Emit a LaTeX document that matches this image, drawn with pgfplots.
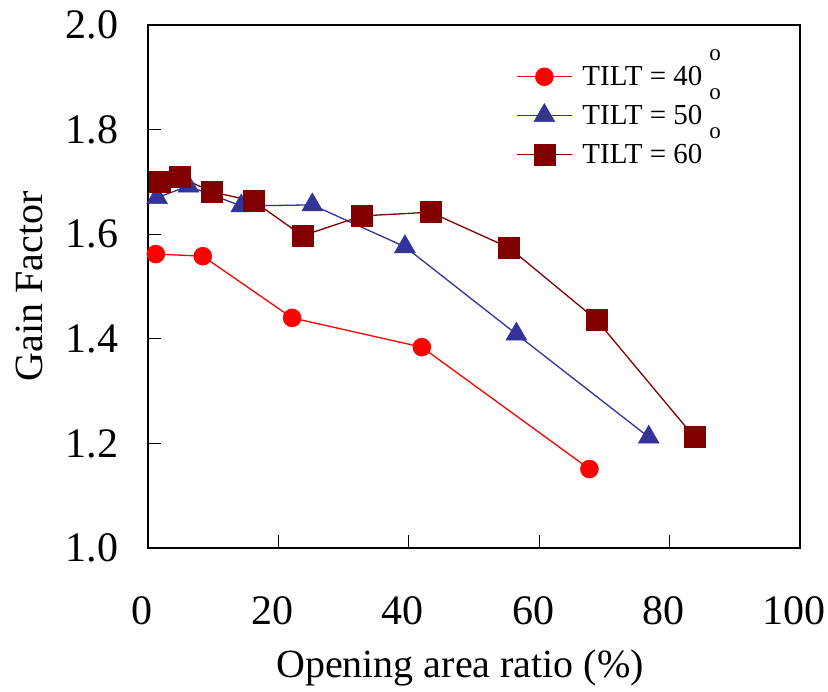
\documentclass[border=0pt]{standalone}
\usepackage{fontspec}
\setmainfont{Liberation Serif}
\usepackage{pgfplots}
\pgfplotsset{compat=1.18}
\definecolor{c40}{HTML}{FF0000}
\definecolor{c50}{HTML}{333399}
\definecolor{c60}{HTML}{800000}
\newcommand\degsup{\hspace{7bp}\smash{\raisebox{25bp}{\fontsize{23bp}{23bp}\selectfont o}}}
\begin{document}
\begin{tikzpicture}
\path[use as bounding box] (-148bp,-144bp) rectangle (680bp,548bp);
\begin{axis}[
  at={(0,0)}, anchor=south west,
  scale only axis, width=652bp, height=523bp,
  xmin=0, xmax=100, ymin=1, ymax=2,
  xtick={0,20,40,60,80,100},
  ytick={1.0,1.2,1.4,1.6,1.8,2.0},
  xtick pos=bottom, ytick pos=left, tick align=inside,
  major tick length=13bp,
  axis line style={line width=2bp},
  every tick/.style={black, line width=1bp},
  /pgf/number format/assume math mode=true,
  ticklabel style={font=\fontsize{42bp}{42bp}\selectfont},
  xticklabel style={yshift=-45bp, xshift=-6bp},
  yticklabel style={/pgf/number format/fixed, /pgf/number format/fixed zerofill, /pgf/number format/precision=1, xshift=-26bp},
  xlabel={Opening area ratio (\%)},
  ylabel={Gain Factor},
  label style={font=\fontsize{40bp}{40bp}\selectfont},
  xlabel style={at={([xshift=-14bp,yshift=-120bp]axis description cs:0.5,0)}, anchor=center},
  ylabel style={at={([xshift=-119bp]axis description cs:0,0.5)}, anchor=center},
  legend style={at={(axis description cs:0.5644,0.925)}, anchor=north west, draw=none, fill=none, inner sep=0pt, font=\fontsize{29bp}{29bp}\selectfont, row sep=14bp, column sep=8bp, cells={anchor=west}},
  legend image code/.code={\draw[mark repeat=2,mark phase=2] plot coordinates {(0bp,0bp) (27.5bp,0bp) (55bp,0bp)};},
]
\addplot[color=c40, line width=1.3bp, mark=*, mark size=9bp, mark options={draw=c40, fill=c40, line width=0.5bp}]
  coordinates {(1.2,1.562) (8.4,1.558) (22.1,1.440) (42.0,1.384) (67.7,1.151)};
\addlegendentry{TILT = 40\degsup}
\addplot[color=c50, line width=1.3bp, mark=triangle*, mark size=12bp, mark options={draw=c50, fill=c50, line width=0.5bp}]
  coordinates {(1.4,1.670) (6.2,1.692) (14.3,1.654) (25.2,1.656) (39.4,1.576) (56.5,1.409) (76.8,1.212)};
\addlegendentry{TILT = 50\degsup}
\addplot[color=c60, line width=1.3bp, mark=square*, mark size=10.5bp, mark options={draw=c60, fill=c60, line width=0.5bp}]
  coordinates {(1.8,1.700) (4.9,1.709) (9.8,1.681) (16.2,1.663) (23.7,1.597) (32.8,1.635) (43.3,1.642) (55.4,1.574) (68.8,1.436) (83.8,1.212)};
\addlegendentry{TILT = 60\degsup}
\end{axis}
\end{tikzpicture}
\end{document}
